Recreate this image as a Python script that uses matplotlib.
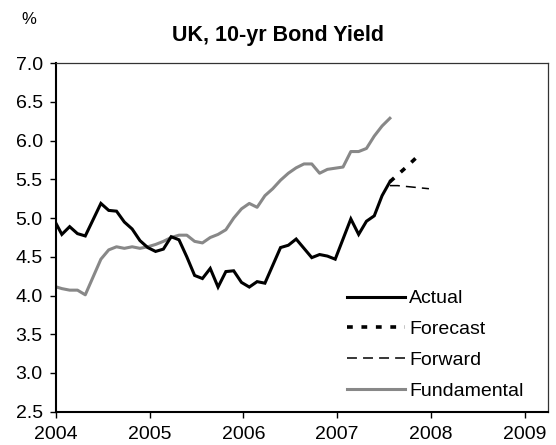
import matplotlib
matplotlib.use("Agg")
import matplotlib.pyplot as plt

plt.rcParams['font.family'] = ['Liberation Sans', 'DejaVu Sans']

# Monthly data, Dec 2003 .. Jul 2007
start_year, start_month = 2003, 12
actual = [4.98, 4.79, 4.89, 4.80, 4.77, 4.98, 5.19, 5.10, 5.09, 4.95, 4.86, 4.71,
          4.62, 4.57, 4.60, 4.76, 4.72, 4.50, 4.26, 4.22, 4.35, 4.11, 4.31, 4.32,
          4.17, 4.11, 4.18, 4.16, 4.39, 4.62, 4.65, 4.73, 4.61, 4.49, 4.53, 4.51,
          4.47, 4.73, 4.99, 4.79, 4.96, 5.03, 5.29, 5.47]
fundamental = [4.12, 4.09, 4.07, 4.07, 4.01, 4.24, 4.47, 4.59, 4.63, 4.61, 4.63, 4.61,
               4.63, 4.66, 4.70, 4.75, 4.78, 4.78, 4.70, 4.68, 4.75, 4.79, 4.85, 5.00,
               5.12, 5.19, 5.14, 5.29, 5.38, 5.49, 5.58, 5.65, 5.70, 5.70, 5.58, 5.63,
               5.645, 5.66, 5.86, 5.86, 5.90, 6.06, 6.19, 6.29]
# Forecast: Jul, Sep, Nov 2007
forecast_months = [(2007, 7), (2007, 9), (2007, 11)]
forecast = [5.47, 5.65, 5.84]
# Forward: Jul .. Dec 2007
forward_months = [(2007, 7), (2007, 8), (2007, 9), (2007, 10), (2007, 11), (2007, 12)]
forward = [5.42, 5.42, 5.41, 5.40, 5.39, 5.38]

year_ticks = [2004, 2005, 2006, 2007, 2008, 2009]
y_ticks = [2.5, 3.0, 3.5, 4.0, 4.5, 5.0, 5.5, 6.0, 6.5, 7.0]


def xpos(year, month):
    return year + (month - 0.25) / 12.0


def monthly_x(n):
    xs = []
    y, m = start_year, start_month
    for _ in range(n):
        xs.append(xpos(y, m))
        m += 1
        if m > 12:
            m = 1
            y += 1
    return xs


fig = plt.figure(figsize=(5.56, 4.45), dpi=100)
ax = fig.add_axes([0.1007, 0.0748, 0.885, 0.783])

x_act = monthly_x(len(actual))
x_fun = monthly_x(len(fundamental))
x_fc = [xpos(y, m) for y, m in forecast_months]
x_fw = [xpos(y, m) for y, m in forward_months]

ax.plot(x_act, actual, color='black', lw=2.2, label='Actual', zorder=4,
        solid_joinstyle='miter')
ax.plot(x_fc, forecast, color='black', lw=2.6, label='Forecast', zorder=3,
        dashes=(1.6, 2.4), dash_capstyle='butt')
ax.plot(x_fw, forward, color='black', lw=1.1, label='Forward', zorder=3,
        dashes=(6.5, 4.0))
ax.plot(x_fun, fundamental, color='#888888', lw=2.2, label='Fundamental', zorder=2)

ax.set_xlim(2004, 2009.25)
ax.set_ylim(2.5, 7.0)
ax.set_xticks(year_ticks)
ax.set_xticklabels([str(y) for y in year_ticks])
ax.set_yticks(y_ticks)
ax.set_yticklabels([f"{v:.1f}" for v in y_ticks])

ax.tick_params(axis='both', direction='out', length=4.5, width=1.0,
               labelsize=14, colors='black')
ax.tick_params(axis='x', pad=5.5)
ax.tick_params(axis='y', pad=5)

for side in ['left', 'bottom']:
    ax.spines[side].set_linewidth(1.5)
    ax.spines[side].set_color('black')
for side in ['top', 'right']:
    ax.spines[side].set_linewidth(0.9)
    ax.spines[side].set_color('#333333')

leg = ax.legend(loc='lower left', bbox_to_anchor=(0.5915, 0.034), frameon=False,
                fontsize=14, handlelength=3.0, handletextpad=0.2,
                labelspacing=0.68, borderpad=0, borderaxespad=0)

fig.text(0.5, 1 - 35 / 445, 'UK, 10-yr Bond Yield', ha='center', va='center',
         fontsize=15.5, fontweight='bold')
fig.text(29 / 556, 1 - 19 / 445, '%', ha='center', va='center', fontsize=12)

fig.savefig('out.png', dpi=100)
